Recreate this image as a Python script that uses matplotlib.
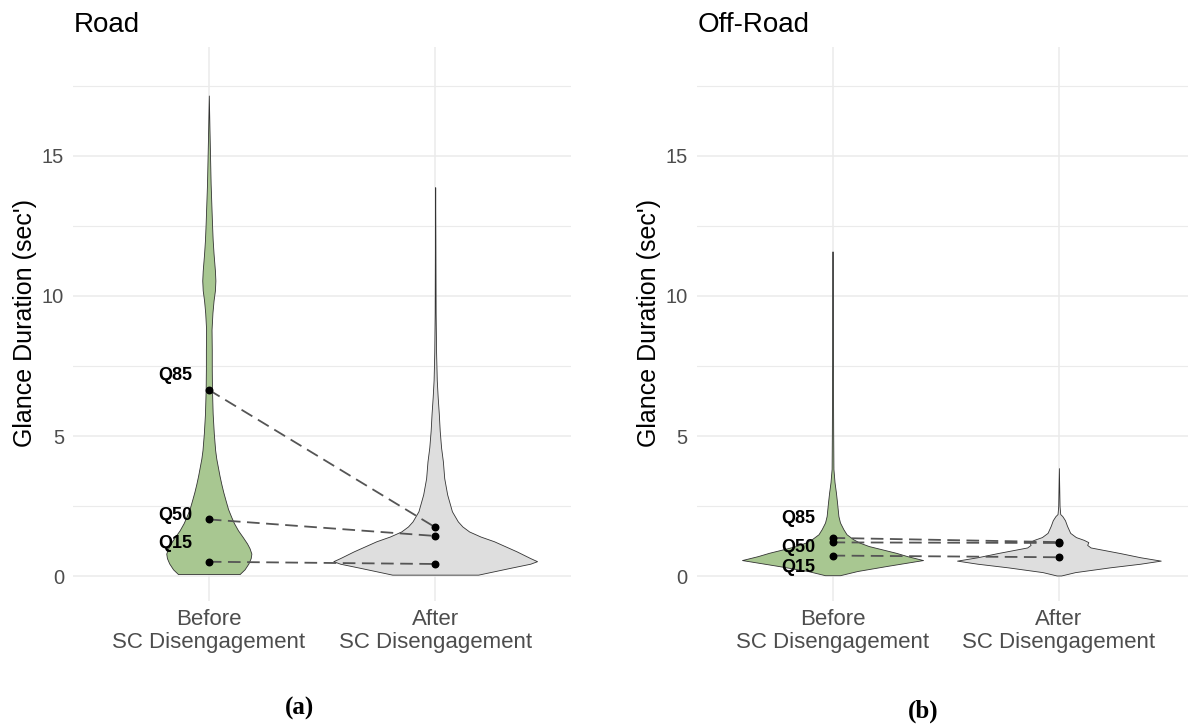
import numpy as np
import matplotlib
matplotlib.use("Agg")
import matplotlib.pyplot as plt

plt.rcParams["font.family"] = ["Liberation Sans", "DejaVu Sans"]

# ---------------------------------------------------------------
# Data
# ---------------------------------------------------------------
groups = ["Before\nSC Disengagement", "After\nSC Disengagement"]
quant_names = ["Q85", "Q50", "Q15"]

# violin outlines: y (sec) and half-width (x units)
road_before_y = [0.08, 0.25, 0.46, 0.65, 0.81, 1.0, 1.17, 1.4, 1.64, 1.9, 2.12, 2.4, 2.71,
                 3.0, 3.3, 3.6, 3.9, 4.2, 4.5, 5.1, 5.8, 6.65, 7.4, 8.07, 8.8, 9.4, 9.84,
                 10.2, 10.55, 10.9, 11.5, 12.0, 12.6, 14.0, 15.9, 17.15]
road_before_hw = [0.136, 0.158, 0.175, 0.185, 0.188, 0.18, 0.169, 0.15, 0.129, 0.111, 0.099,
                  0.085, 0.074, 0.064, 0.055, 0.047, 0.04, 0.033, 0.028, 0.022, 0.017, 0.014,
                  0.013, 0.013, 0.012, 0.016, 0.021, 0.027, 0.029, 0.027, 0.021, 0.017, 0.014,
                  0.008, 0.003, 0.0]

road_after_y = [0.06, 0.3, 0.45, 0.54, 0.65, 0.89, 1.07, 1.25, 1.42, 1.6, 1.78, 1.96, 2.32,
                2.92, 3.5, 4.1, 4.6, 5.2, 5.8, 6.4, 7.0, 8.0, 9.4, 12.0, 13.88]
road_after_hw = [0.19, 0.33, 0.42, 0.45, 0.42, 0.36, 0.31, 0.26, 0.2, 0.15, 0.12, 0.1, 0.074,
                 0.053, 0.04, 0.034, 0.026, 0.02, 0.016, 0.011, 0.007, 0.004, 0.002, 0.001, 0.0]

off_before_y = [0.04, 0.19, 0.37, 0.58, 0.72, 0.84, 0.96, 1.08, 1.2, 1.32, 1.5, 1.68, 1.92,
                2.15, 2.63, 2.99, 3.35, 3.83, 5.11, 7.0, 9.0, 11.59]
off_before_hw = [0.033, 0.11, 0.24, 0.40, 0.33, 0.28, 0.22, 0.16, 0.12, 0.092, 0.062, 0.048,
                 0.033, 0.026, 0.02, 0.015, 0.009, 0.004, 0.003, 0.002, 0.001, 0.0]

off_after_y = [0.03, 0.15, 0.32, 0.45, 0.56, 0.68, 0.83, 1.03, 1.12, 1.22, 1.3, 1.4, 1.55,
               1.8, 2.0, 2.15, 2.22, 2.5, 3.86]
off_after_hw = [0.01, 0.072, 0.225, 0.36, 0.45, 0.36, 0.27, 0.14, 0.125, 0.13, 0.11, 0.075,
                0.05, 0.036, 0.027, 0.015, 0.006, 0.003, 0.0]

# quantile points (Q85, Q50, Q15)
road_q_before = [6.65, 2.03, 0.52]
road_q_after = [1.75, 1.44, 0.44]
off_q_before = [1.37, 1.21, 0.74]
off_q_after = [1.22, 1.19, 0.68]

# quantile label heights
road_label_y = [7.16, 2.16, 1.18]
off_label_y = [2.05, 1.04, 0.32]

panels = [
    ("Road", (road_before_y, road_before_hw), (road_after_y, road_after_hw),
     road_q_before, road_q_after, road_label_y, "(a)"),
    ("Off-Road", (off_before_y, off_before_hw), (off_after_y, off_after_hw),
     off_q_before, off_q_after, off_label_y, "(b)"),
]

# ---------------------------------------------------------------
# Figure
# ---------------------------------------------------------------
W, H = 1188, 725
fig = plt.figure(figsize=(W / 100, H / 100), dpi=100)

green = "#A8C791"
grey_fill = "#DEDEDE"
grid_col = "#EBEBEB"
tick_col = "#4D4D4D"

ax_left_px = [73, 696.7]
ax_w_px = 498
ax_top_px, ax_bot_px = 47, 601
caption_xy = [(300, 708), (923, 711)]

for i, (title, before, after, qb, qa, ly, cap) in enumerate(panels):
    ax = fig.add_axes([ax_left_px[i] / W, 1 - ax_bot_px / H,
                       ax_w_px / W, (ax_bot_px - ax_top_px) / H])

    for xc, (vy, vhw), fc in [(1, before, green), (2, after, grey_fill)]:
        vy = np.array(vy)
        vhw = np.array(vhw)
        ax.fill_betweenx(vy, xc - vhw, xc + vhw, facecolor=fc,
                         edgecolor="#333333", linewidth=0.6, zorder=2)

    for yb, ya in zip(qb, qa):
        ax.plot([1, 2], [yb, ya], color="#555555", lw=1.3,
                linestyle=(0, (7, 3.6)), zorder=3)
    ax.scatter([1] * len(qb), qb, s=22, color="black", zorder=4)
    ax.scatter([2] * len(qa), qa, s=22, color="black", zorder=4)

    for name, yl in zip(quant_names, ly):
        ax.text(0.85, yl, name, ha="center", va="center", fontsize=13,
                fontweight="bold", color="black", zorder=5)

    ax.set_xlim(0.4, 2.6)
    ax.set_ylim(-0.88, 18.88)
    ax.set_xticks([1, 2])
    ax.set_xticklabels(groups, fontsize=16, color=tick_col, linespacing=1.15)
    ax.set_yticks([0, 5, 10, 15])
    ax.set_yticks([2.5, 7.5, 12.5, 17.5], minor=True)
    ax.tick_params(axis="both", which="both", length=0)
    ax.tick_params(axis="y", labelsize=14.5, labelcolor=tick_col, pad=6.5)
    ax.tick_params(axis="x", pad=5.5)
    ax.grid(True, which="major", color=grid_col, lw=1.1, zorder=0)
    ax.grid(True, which="minor", axis="y", color=grid_col, lw=0.8, zorder=0)
    ax.set_axisbelow(True)
    for s in ax.spines.values():
        s.set_visible(False)

    fig.text((ax_left_px[i] + 1) / W, 1 - 32 / H, title, fontsize=20,
             ha="left", va="baseline")
    fig.text((ax_left_px[i] - 48) / W, 1 - 323 / H, "Glance Duration (sec')",
             fontsize=18, rotation=90, ha="center", va="center")
    fig.text(caption_xy[i][0] / W, 1 - caption_xy[i][1] / H, cap,
             fontsize=18, fontweight="bold", family="Liberation Serif",
             ha="center", va="center")

fig.savefig("out.png", dpi=100)
